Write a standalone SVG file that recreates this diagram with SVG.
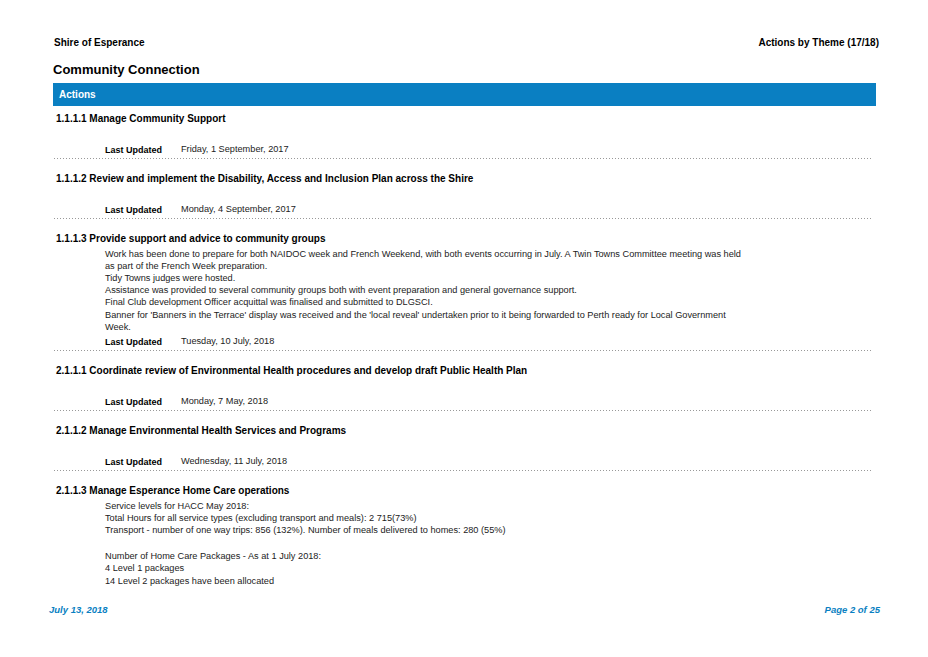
<svg xmlns="http://www.w3.org/2000/svg" width="928" height="657" viewBox="0 0 928 657">
<style>
text{font-family:"Liberation Sans",Arial,sans-serif;fill:#000}
.h{font-size:10px;font-weight:bold}
.b{font-size:9.2px;fill:#222}
.lu{font-size:9px;font-weight:bold}
.sep{stroke:#999;stroke-width:1;stroke-dasharray:1,2}
.f{font-size:9.5px;font-weight:bold;font-style:italic;fill:#0a7fc2}
</style>
<rect width="928" height="657" fill="#fff"/>
<text class="h" x="54" y="46">Shire of Esperance</text>
<text class="h" x="879" y="46" text-anchor="end">Actions by Theme  (17/18)</text>
<text x="53" y="74" style="font-size:13px;font-weight:bold">Community Connection</text>
<rect x="53" y="83" width="823" height="23" fill="#0a7fc2"/>
<text class="h" x="59" y="98" style="fill:#fff">Actions</text>
<g id="a1111">
<text class="h" x="56" y="122">1.1.1.1  Manage Community Support</text>
<text class="lu" x="105" y="153">Last Updated</text><text class="b" x="181" y="152">Friday, 1 September, 2017</text>
</g>
<g id="a1112">
<text class="h" x="56" y="182">1.1.1.2  Review and implement the Disability, Access and Inclusion Plan across the Shire</text>
<text class="lu" x="105" y="213">Last Updated</text><text class="b" x="181" y="212">Monday, 4 September, 2017</text>
</g>
<g id="a1113">
<text class="h" x="56" y="242">1.1.1.3  Provide support and advice to community groups</text>
<text class="b" x="105" y="257">Work has been done to prepare for both NAIDOC week and French Weekend, with both events occurring in July. A Twin Towns Committee meeting was held</text>
<text class="b" x="105" y="269">as part of the French Week preparation.</text>
<text class="b" x="105" y="281">Tidy Towns judges were hosted.</text>
<text class="b" x="105" y="293">Assistance was provided to several community groups both with event preparation and general governance support.</text>
<text class="b" x="105" y="305">Final Club development Officer acquittal was finalised and submitted to DLGSCI.</text>
<text class="b" x="105" y="318">Banner for 'Banners in the Terrace'  display was received and the 'local reveal' undertaken prior to it being forwarded to Perth ready for Local Government</text>
<text class="b" x="105" y="330">Week.</text>
<text class="lu" x="105" y="345">Last Updated</text><text class="b" x="181" y="344">Tuesday, 10 July, 2018</text>
</g>
<g id="a2111">
<text class="h" x="56" y="374">2.1.1.1  Coordinate review of Environmental Health procedures and develop draft Public Health Plan</text>
<text class="lu" x="105" y="405">Last Updated</text><text class="b" x="181" y="404">Monday, 7 May, 2018</text>
</g>
<g id="a2112">
<text class="h" x="56" y="434">2.1.1.2  Manage Environmental Health Services and Programs</text>
<text class="lu" x="105" y="465">Last Updated</text><text class="b" x="181" y="464">Wednesday, 11 July, 2018</text>
</g>
<g id="a2113">
<text class="h" x="56" y="494">2.1.1.3  Manage Esperance Home Care operations</text>
<text class="b" x="105" y="509">Service levels for HACC May 2018:</text>
<text class="b" x="105" y="521">Total Hours for all service types (excluding transport and meals): 2 715(73%)</text>
<text class="b" x="105" y="533">Transport - number of one way trips: 856 (132%). Number of meals delivered to homes: 280 (55%)</text>
<text class="b" x="105" y="559">Number of Home Care Packages - As at 1 July 2018:</text>
<text class="b" x="105" y="571">4 Level 1 packages</text>
<text class="b" x="105" y="584">14 Level 2 packages have been allocated</text>
</g>
<g id="separators">
<line class="sep" x1="54" y1="158.5" x2="871" y2="158.5"/>
<line class="sep" x1="54" y1="218.5" x2="871" y2="218.5"/>
<line class="sep" x1="54" y1="350.5" x2="871" y2="350.5"/>
<line class="sep" x1="54" y1="410.5" x2="871" y2="410.5"/>
<line class="sep" x1="54" y1="470.5" x2="871" y2="470.5"/>
</g>
<text class="f" x="49" y="613">July 13, 2018</text>
<text class="f" x="880" y="613" text-anchor="end">Page 2 of 25</text>
</svg>
